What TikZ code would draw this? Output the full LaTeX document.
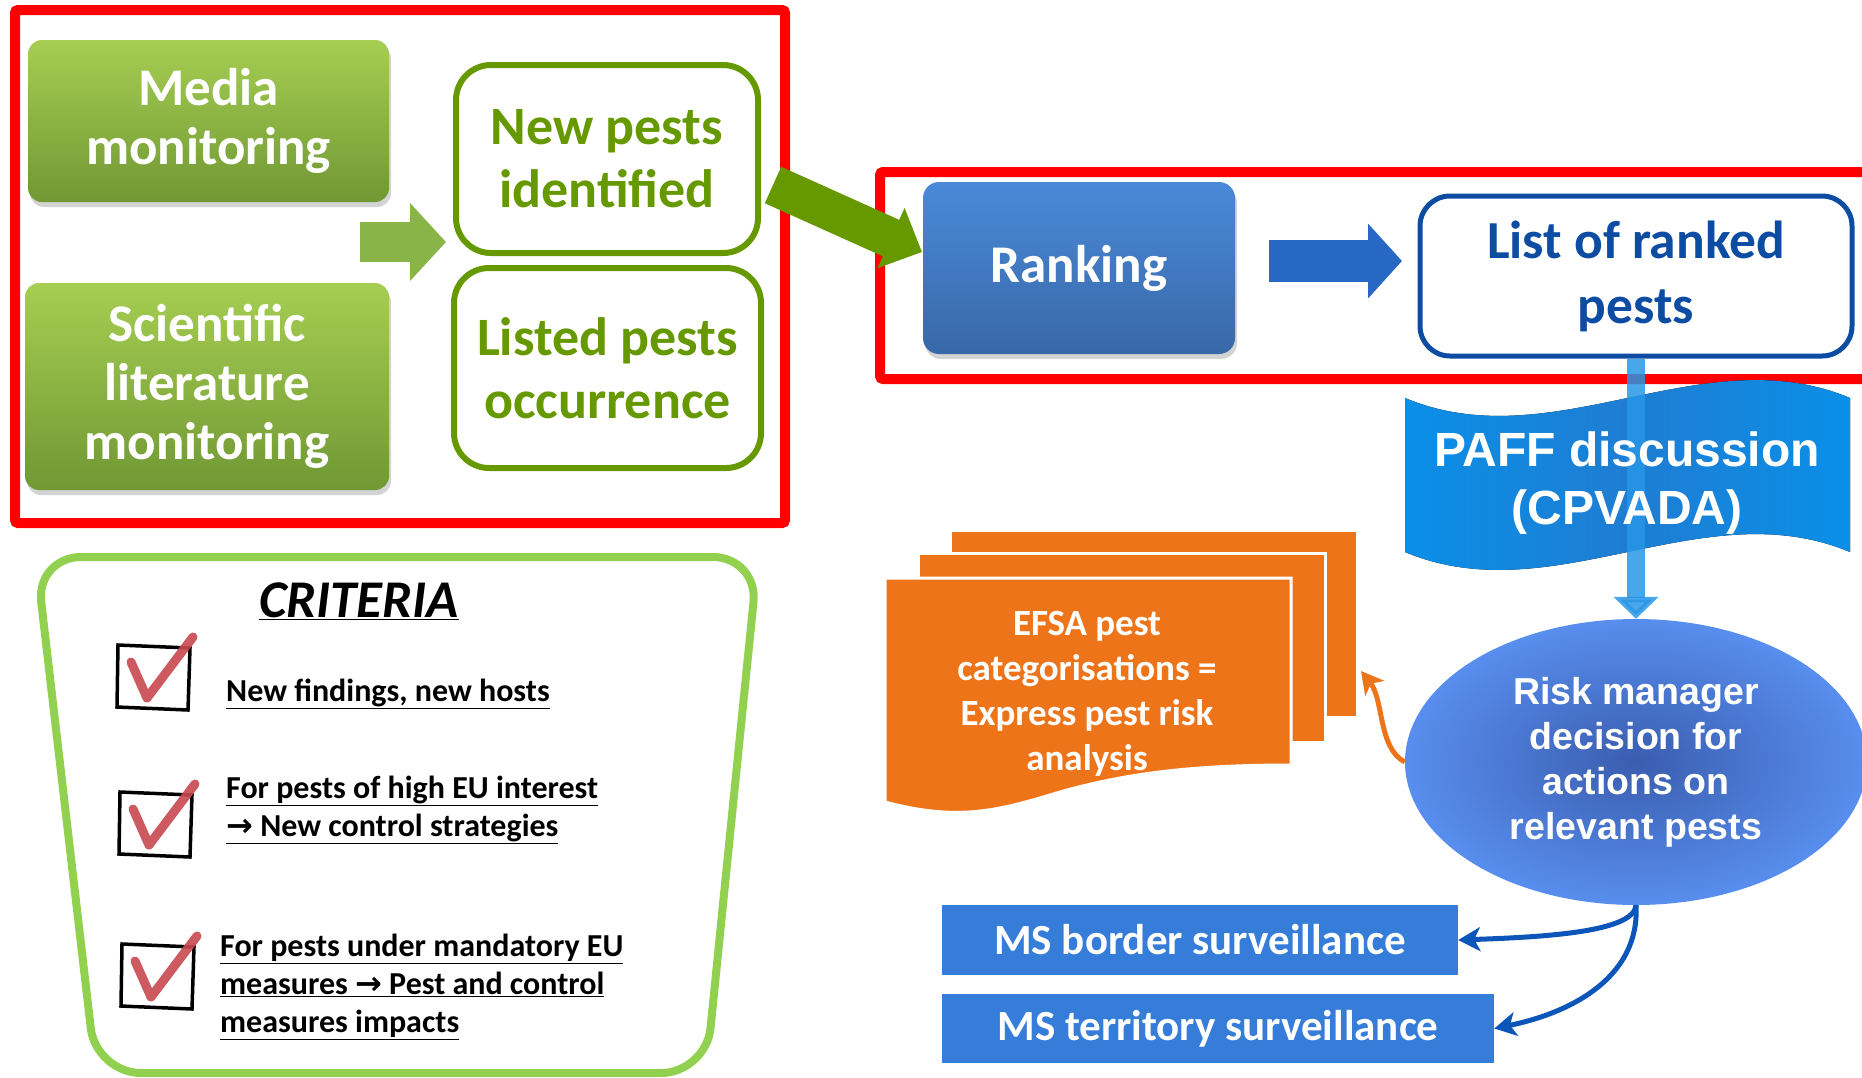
\documentclass[tikz,border=0pt]{standalone}
\usepackage{fontspec}
\setmainfont{Carlito}
\newfontfamily\arialfont{Liberation Sans}
\newfontfamily\arrowfont{DejaVu Sans}
\usepackage{tikz}
\usetikzlibrary{arrows.meta,shapes.geometric,shadows}

\definecolor{framered}{RGB}{255,0,0}
\definecolor{moss}{RGB}{102,153,0}
\definecolor{mosslight}{RGB}{166,206,82}
\definecolor{mossdark}{RGB}{112,152,52}
\definecolor{sprout}{RGB}{137,180,72}
\definecolor{rankblue}{RGB}{74,138,216}
\definecolor{rankbluedark}{RGB}{56,104,168}
\definecolor{navy}{RGB}{13,76,163}
\definecolor{arrowblue}{RGB}{38,104,196}
\definecolor{skyblue}{RGB}{10,143,232}
\definecolor{skybluedark}{RGB}{30,125,210}
\definecolor{shaftblue}{RGB}{40,150,230}
\definecolor{efsaorange}{RGB}{238,116,26}
\definecolor{riskin}{RGB}{58,93,175}
\definecolor{riskout}{RGB}{88,142,238}
\definecolor{survblue}{RGB}{53,125,217}
\definecolor{curveblue}{RGB}{11,86,184}
\definecolor{critgreen}{RGB}{146,208,80}
\definecolor{tickred}{RGB}{201,72,80}

\tikzset{
  redframe/.style={draw=framered, line width=10pt, rounded corners=3pt},
  greenbox/.style={rounded corners=14pt, top color=mosslight, bottom color=mossdark,
    drop shadow={opacity=.35, shadow xshift=2pt, shadow yshift=-5pt},
    text=white, align=center, inner sep=0pt, font=\bfseries\fontsize{53}{59}\selectfont},
  pestbox/.style={rounded corners=35pt, draw=moss, line width=6pt, fill=white,
    text=moss, align=center, inner sep=0pt, font=\bfseries\fontsize{54}{63}\selectfont},
  rankbox/.style={rounded corners=16pt, top color=rankblue, bottom color=rankbluedark,
    drop shadow={opacity=.35, shadow xshift=2pt, shadow yshift=-5pt},
    text=white, inner sep=0pt, font=\bfseries\fontsize{53}{59}\selectfont},
  rankedbox/.style={rounded corners=30pt, draw=navy, line width=5pt, fill=white,
    text=navy, align=center, inner sep=0pt, font=\bfseries\fontsize{53.5}{65}\selectfont},
  survbox/.style={fill=survblue, text=white, inner sep=0pt,
    font=\bfseries\fontsize{43}{50}\selectfont},
  curvearrow/.style={draw=curveblue, line width=5pt, -{Stealth[length=22pt, width=24pt, inset=6pt]}},
  tickframe/.style={draw=black, line width=3.5pt},
  tickmark/.style={draw=tickred, line width=9pt, line cap=round, line join=round, opacity=.9},
  critline/.style={anchor=north west, inner sep=0pt, align=left,
    font=\bfseries\fontsize{32}{38}\selectfont}
}

\begin{document}
\begin{tikzpicture}[x=1pt,y=1pt,yscale=-1,xscale=1]
\useasboundingbox (0,0) rectangle (1862,1077);

%Shape: Rectangle [red frame, monitoring]
\draw[redframe] (15,10) rectangle (785,523);
%Shape: Rectangle [red frame, ranking]
\draw[redframe] (880,172) rectangle (1880,379);

% Monitoring boxes
\node[greenbox, minimum width=361pt, minimum height=162pt] (media) at (208.5,121) {Media\\monitoring};
\node[greenbox, minimum width=364pt, minimum height=207pt] (scilit) at (207,386.5) {Scientific\\literature\\monitoring};
\node[pestbox, minimum width=302pt, minimum height=188pt] (newpests) at (607,159) {New pests\\identified};
\node[pestbox, minimum width=307pt, minimum height=200pt] (listed) at (607.5,368) {Listed pests\\occurrence};

% Ranking
\node[rankbox, minimum width=312pt, minimum height=172pt] (ranking) at (1079,268) {Ranking};
\node[rankedbox, minimum width=432pt, minimum height=160pt] (ranked) at (1636,276) {List of ranked\\pests};

% Block arrows
\coordinate (gtail) at (360,242);
\coordinate (gtip) at (446,242);
\draw[sprout, line width=40pt, -{Triangle[length=36pt, width=76pt]}] (gtail) -- (gtip);
\coordinate (dtail) at (773,185);
\coordinate (dtip) at (922,252);
\draw[moss, line width=40pt, -{Triangle[length=34pt, width=64pt]}] (dtail) -- (dtip);
\coordinate (btail) at (1269,261);
\coordinate (btip) at (1402,261);
\draw[arrowblue, line width=42pt, -{Triangle[length=34pt, width=73pt]}] (btail) -- (btip);

% Risk manager
\node[ellipse, inner color=riskin, outer color=riskout, minimum width=462pt, minimum height=286pt,
  text=white, align=center, inner sep=0pt, font=\arialfont\bfseries\fontsize{37.5}{45}\selectfont]
  (risk) at (1636,762) {Risk manager\\decision for\\actions on\\relevant pests};

%Shape: PAFF banner
\fill[left color=skyblue, right color=skyblue, middle color=skybluedark]
  (1405,398) .. controls (1553,460) and (1702,336) .. (1850,398)
  -- (1850,552) .. controls (1702,490) and (1553,614) .. (1405,552) -- cycle;
\draw[shaftblue, line width=18pt, opacity=.85, -{Triangle[length=22pt, width=44pt]}] (ranked.south) -- (risk.north);
\node[text=white, align=center, inner sep=0pt, font=\arialfont\bfseries\fontsize{48}{58}\selectfont]
  (paff) at (1627,483) {PAFF discussion\\(CPVADA)};

%Shape: EFSA documents
\filldraw[fill=efsaorange, draw=white, line width=3pt] (950,530) rectangle (1357,717);
\filldraw[fill=efsaorange, draw=white, line width=3pt] (918,553) rectangle (1325,742);
\filldraw[fill=efsaorange, draw=white, line width=3pt] (885,578) -- (1291,578) -- (1291,765)
  .. controls (1200,765) and (1130,772) .. (1060,792) .. controls (1000,810) and (960,822) .. (885,802) -- cycle;
\node[text=white, align=center, inner sep=0pt, font=\bfseries\fontsize{37}{45}\selectfont]
  (efsa) at (1087,694) {EFSA pest\\categorisations =\\Express pest risk\\analysis};
\coordinate (efsatip) at (1361,671);
\draw[draw=efsaorange, line width=5pt, -{Stealth[length=22pt, width=24pt, inset=6pt]}]
  (risk.west) .. controls (1378,748) and (1384,700) .. (efsatip);

% Surveillance
\node[survbox, minimum width=516pt, minimum height=70pt] (border) at (1200,940) {MS border surveillance};
\node[survbox, minimum width=552pt, minimum height=69pt] (territory) at (1218,1028.5) {MS territory surveillance};
\draw[curvearrow] (risk.south) .. controls (1634,932) and (1545,937) .. (border.east);
\draw[curvearrow] (risk.south) .. controls (1640,975) and (1575,1012) .. (territory.east);

%Shape: criteria frame
\draw[critgreen, line width=8pt, rounded corners=45pt] (96,1073) -- (36,557) -- (758,557) -- (706,1073) -- cycle;
\node[anchor=base, inner sep=0pt, font=\bfseries\itshape\fontsize{53}{60}\selectfont] (crit) at (359,617) {\underline{CRITERIA}};

%Shape: check boxes
\draw[tickframe] (118,645) -- (190,648) -- (188,710) -- (117,707) -- cycle;
\draw[tickmark] (131,662) -- (147,698) -- (193,637);
\draw[tickframe] (120,792) -- (192,795) -- (190,857) -- (119,854) -- cycle;
\draw[tickmark] (133,809) -- (149,845) -- (195,784);
\draw[tickframe] (122,944) -- (194,947) -- (192,1009) -- (121,1006) -- cycle;
\draw[tickmark] (135,961) -- (151,997) -- (197,936);

% Text Node
\node[critline] (crit1) at (226,679) {\underline{New findings, new hosts}};
% Text Node
\node[critline] (crit2) at (226,776) {\underline{For pests of high EU interest}\\\underline{{\arrowfont→} New control strategies}};
% Text Node
\node[critline] (crit3) at (220,934) {\underline{For pests under mandatory EU}\\\underline{measures {\arrowfont→} Pest and control}\\\underline{measures impacts}};

\end{tikzpicture}
\end{document}
